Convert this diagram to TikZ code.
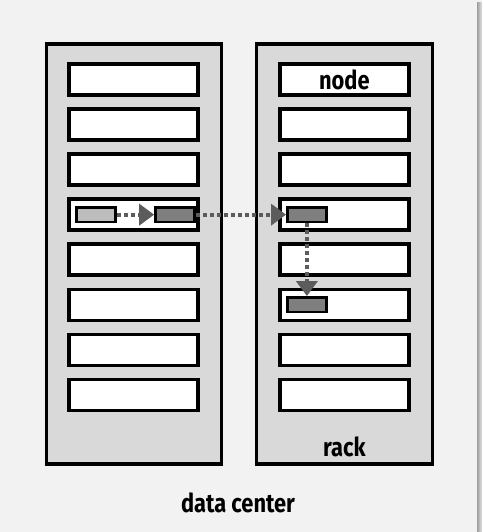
\documentclass[tikz,border=0pt]{standalone}
\usepackage{fontspec}
\setmainfont{Fira Sans}[FakeStretch=0.84]
\usetikzlibrary{arrows.meta,positioning}
\definecolor{bggray}{HTML}{F2F2F2}
\definecolor{rackgray}{HTML}{D9D9D9}
\definecolor{lightblk}{HTML}{BDBDBD}
\definecolor{darkblk}{HTML}{7F7F7F}
\definecolor{hopgray}{HTML}{5C5C5C}
\tikzset{
  rack/.style={draw, line width=3.4pt, fill=rackgray, minimum width=175pt,
    minimum height=420pt, inner sep=0pt},
  slot/.style={draw, line width=3.5pt, fill=white, minimum width=129pt,
    minimum height=31pt, inner sep=0pt},
  blk/.style={draw, line width=2.7pt, minimum width=39pt, minimum height=14.7pt,
    inner sep=0pt},
  hop/.style={line width=3.8pt, dash pattern=on 4pt off 3pt, color=hopgray,
    -{Triangle[length=15pt,width=21pt]}},
  lbl/.style={font=\bfseries\fontsize{26}{26}\selectfont, inner sep=0pt}
}

\begin{document}
\begin{tikzpicture}[x=1pt,y=-1pt]
      % background
      \fill [bggray] (0, 0) rectangle (482, 532);
      \useasboundingbox (0, 0) rectangle (482, 532);
      \shade [left color=black!38, right color=black!10] (477, 3) rectangle (482, 532);

      % racks
      \node [rack] (lrack) at (133.7, 254) {};
      \node [rack, minimum width=176pt] (rrack) at (344.3, 254) {};

      \foreach \i in {1,...,8} {
        \node [slot] (l\i) at (133.6, {79.5+45.05*(\i-1)}) {};
        \node [slot] (r\i) at (344.3, {79.5+45.05*(\i-1)}) {};
      }

      \node [lbl] (nodelbl) at (r1) {node};
      \node [lbl, below=24pt of r8] (racklbl) {rack};
      \node [lbl] (dclbl) at (238, 503) {data center};

      % blocks
      \node [blk, fill=lightblk, right=8pt of l4.west] (b1) {};
      \node [blk, fill=darkblk, left=4pt of l4.east] (b2) {};
      \node [blk, fill=darkblk, right=8pt of r4.west] (b3) {};
      \node [blk, fill=darkblk, right=8pt of r6.west] (b4) {};

      \draw [hop] (b1) -- (b2);
      \draw [hop] (b2) -- (b3);
      \draw [hop] (b3) -- (b4);
    \end{tikzpicture}
\end{document}
